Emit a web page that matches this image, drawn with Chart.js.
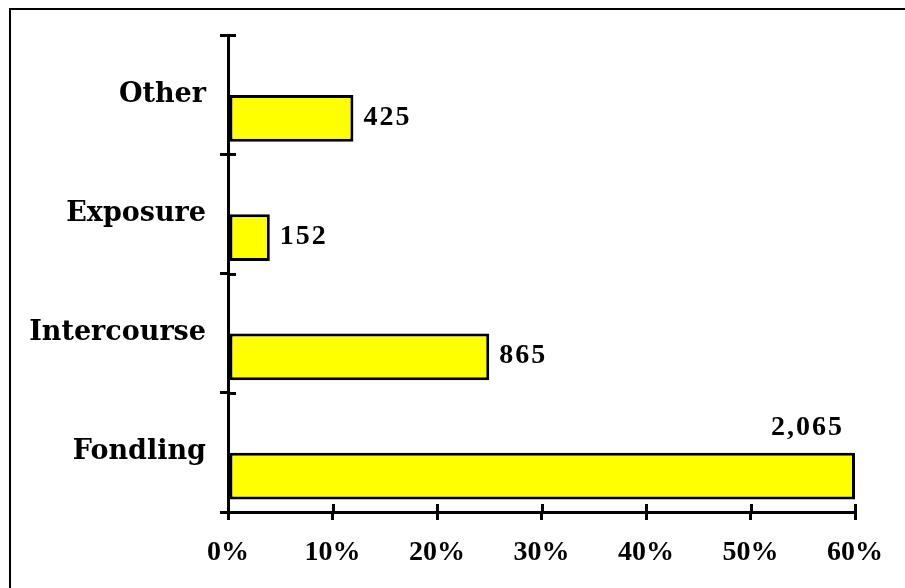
<!DOCTYPE html>
<html>
<head>
<meta charset="utf-8">
<script src="https://cdn.jsdelivr.net/npm/chart.js@4/dist/chart.umd.min.js"></script>
<style>
  html, body { margin: 0; padding: 0; background: #fff; overflow: hidden; width: 905px; height: 588px; }
  #frame { position: absolute; left: 9px; top: 8px; width: 1000px; height: 1000px;
           border-left: 2px solid #000; border-top: 2px solid #000; }
  #wrap { position: absolute; left: 0; top: 0; width: 905px; height: 588px; }
</style>
</head>
<body>
<div id="frame"></div>
<div id="wrap"><canvas id="c" width="905" height="588"></canvas></div>
<script>
// ---- data ----
const categories = ['Other', 'Exposure', 'Intercourse', 'Fondling'];
const percentValues = [12, 4, 25, 60];          // bar length, % of cases
const caseCounts = [425, 152, 865, 2065];        // printed beside each bar
const xTickValues = [0, 10, 20, 30, 40, 50, 60]; // x-axis ticks (%)

const LABEL_FONT = { family: '"DejaVu Serif", serif', size: 27, weight: 'bold' };
const NUM_FONT = { family: '"Liberation Serif", "Times New Roman", serif', size: 28, weight: 'bold' };
const AXIS_W = 3;

// draws the inner half of the axis ticks (ticks cross the axis lines)
const crossTicks = {
  id: 'crossTicks',
  afterDraw(chart) {
    const ctx = chart.ctx, ys = chart.scales.y, xs = chart.scales.x;
    ctx.save();
    ctx.strokeStyle = '#000';
    ctx.lineWidth = AXIS_W;
    ctx.beginPath();
    for (let i = 0; i <= categories.length; i++) {
      const py = Math.round(ys.getPixelForValue(i - 0.5)) + 0.5;
      ctx.moveTo(ys.right, py);
      ctx.lineTo(ys.right + 8, py);
    }
    xTickValues.forEach(v => {
      const px = Math.round(xs.getPixelForValue(v)) + 0.5;
      ctx.moveTo(px, xs.top);
      ctx.lineTo(px, xs.top - 8);
    });
    ctx.stroke();
    ctx.restore();
  }
};

// count labels beside (or above) each bar
const countLabels = {
  id: 'countLabels',
  afterDatasetsDraw(chart) {
    const ctx = chart.ctx;
    const meta = chart.getDatasetMeta(1);
    const area = chart.chartArea;
    ctx.save();
    ctx.fillStyle = '#000';
    ctx.font = `${NUM_FONT.weight} ${NUM_FONT.size}px ${NUM_FONT.family}`;
    try { ctx.letterSpacing = '2px'; } catch (e) {}
    meta.data.forEach((bar, i) => {
      const txt = caseCounts[i].toLocaleString('en-US');
      const w = ctx.measureText(txt).width;
      const half = bar.height / 2;
      if (bar.x + 14 + w > area.right) {
        ctx.textAlign = 'right';
        ctx.textBaseline = 'alphabetic';
        ctx.fillText(txt, bar.x - 11, bar.y - half - 18);
      } else {
        ctx.textAlign = 'left';
        ctx.textBaseline = 'middle';
        ctx.fillText(txt, bar.x + 10, bar.y - 1);
      }
    });
    ctx.restore();
  }
};

new Chart(document.getElementById('c'), {
  type: 'bar',
  data: {
    labels: categories,
    datasets: [
      { label: 'spacer', data: categories.map(() => null) },
      {
        label: 'Cases',
        data: percentValues,
        backgroundColor: '#ffff00',
        borderColor: '#000000',
        borderWidth: 3,
        borderSkipped: false
      }
    ]
  },
  options: {
    indexAxis: 'y',
    responsive: false,
    animation: false,
    devicePixelRatio: 1,
    categoryPercentage: 0.8,
    barPercentage: 0.98,
    layout: { padding: { top: 35, right: 50, bottom: 0, left: 0 } },
    plugins: { legend: { display: false }, tooltip: { enabled: false } },
    scales: {
      y: {
        type: 'category',
        afterFit(s) { s.width = 228; },
        border: { display: true, color: '#000', width: AXIS_W },
        grid: { display: true, drawOnChartArea: false, drawTicks: true, tickLength: 8, color: '#000', lineWidth: AXIS_W, offset: true },
        ticks: { color: '#000', font: LABEL_FONT, padding: 14 }
      },
      x: {
        type: 'linear',
        min: 0, max: 60,
        afterFit(s) { s.height = 76; },
        afterBuildTicks(s) { s.ticks = xTickValues.map(v => ({ value: v })); },
        border: { display: true, color: '#000', width: AXIS_W },
        grid: { display: true, drawOnChartArea: false, drawTicks: true, tickLength: 8, color: '#000', lineWidth: AXIS_W },
        ticks: { color: '#000', font: NUM_FONT, padding: 16, maxRotation: 0, callback: v => v + '%' }
      }
    }
  },
  plugins: [crossTicks, countLabels]
});
</script>
</body>
</html>
